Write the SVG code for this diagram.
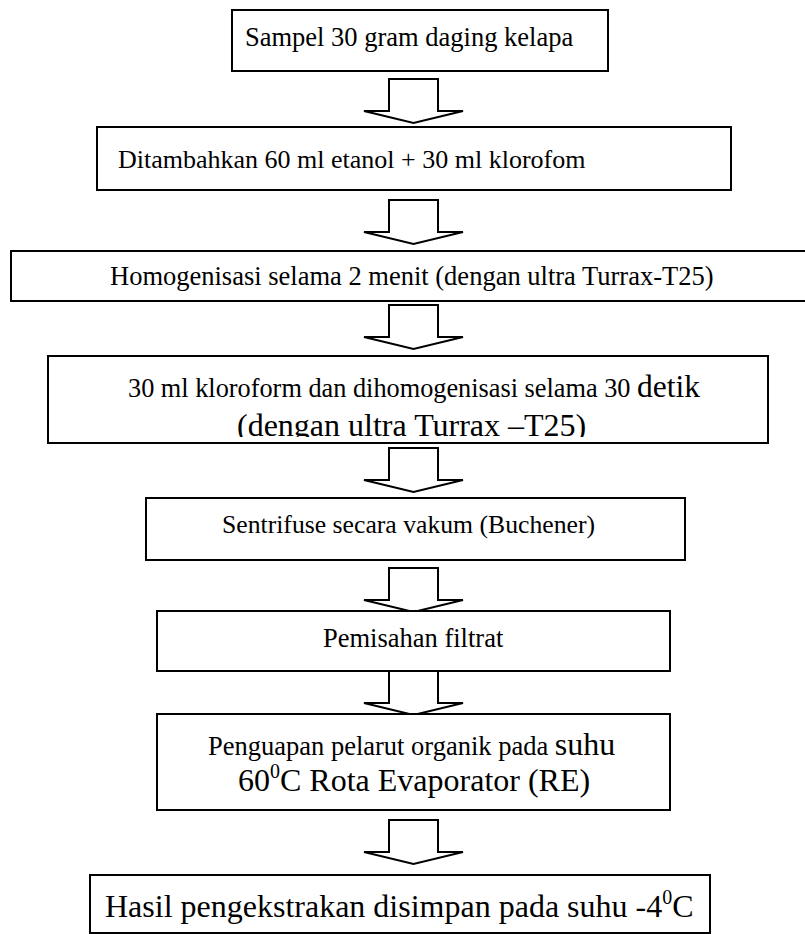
<svg xmlns="http://www.w3.org/2000/svg" width="805" height="934" viewBox="0 0 805 934">
<style>
.box{fill:#fff;stroke:#000;stroke-width:2}
.arr{fill:#fff;stroke:#000;stroke-width:2;stroke-linejoin:miter}
text{font-family:"Liberation Serif","Times New Roman",serif;fill:#000}
.t{font-size:26.5px}
.b{font-size:32px}
</style>
<defs>
<path id="arrow" d="M389,0 H438 V32 H463 L413.5,44 L364,32 H389 Z"/>
<clipPath id="clip4"><rect x="0" y="357" width="805" height="80"/></clipPath>
</defs>
<rect width="805" height="934" fill="#fff"/>
<g id="connectors">
<use href="#arrow" class="arr" transform="translate(0,79)"/>
<use href="#arrow" class="arr" transform="translate(0,200)"/>
<use href="#arrow" class="arr" transform="translate(0,305)"/>
<use href="#arrow" class="arr" transform="translate(0,448)"/>
<use href="#arrow" class="arr" transform="translate(0,568)"/>
<use href="#arrow" class="arr" transform="translate(0,671)"/>
<use href="#arrow" class="arr" transform="translate(0,820)"/>
</g>
<g id="n1"><rect class="box" x="232" y="10" width="376" height="61"/><text class="t" x="245" y="46">Sampel 30 gram daging kelapa</text></g>
<g id="n2"><rect class="box" x="97" y="127" width="634" height="63"/><text class="t" x="118" y="168" style="font-size:26px">Ditambahkan 60 ml etanol + 30 ml klorofom</text></g>
<g id="n3"><rect class="box" x="11" y="251" width="800" height="50"/><text class="t" x="110" y="285">Homogenisasi selama 2 menit (dengan ultra Turrax-T25)</text></g>
<g id="n4"><rect class="box" x="48" y="356" width="720" height="87"/><text x="128" y="397"><tspan style="font-size:26.3px">30 ml kloroform dan dihomogenisasi selama 30 </tspan><tspan style="font-size:31.5px">detik</tspan></text><text class="b" x="237" y="436" clip-path="url(#clip4)">(dengan ultra Turrax –T25)</text></g>
<g id="n5"><rect class="box" x="146" y="498" width="539" height="62"/><text class="t" x="222" y="533" style="font-size:25.7px">Sentrifuse secara vakum (Buchener)</text></g>
<g id="n6"><rect class="box" x="157" y="611" width="513" height="60"/><text class="t" x="323" y="647">Pemisahan filtrat</text></g>
<g id="n7"><rect class="box" x="157" y="714" width="513" height="96"/><text x="208" y="755"><tspan class="t">Penguapan pelarut organik pada </tspan><tspan class="b">suhu</tspan></text><text class="b" x="238" y="791">60<tspan style="font-size:20px" dy="-13">0</tspan><tspan dy="13">C Rota Evaporator (RE)</tspan></text></g>
<g id="n8"><rect class="box" x="90" y="875" width="620" height="58"/><text class="b" x="105" y="917">Hasil pengekstrakan disimpan pada suhu -4<tspan style="font-size:20px" dy="-13">0</tspan><tspan dy="13">C</tspan></text></g>
</svg>
